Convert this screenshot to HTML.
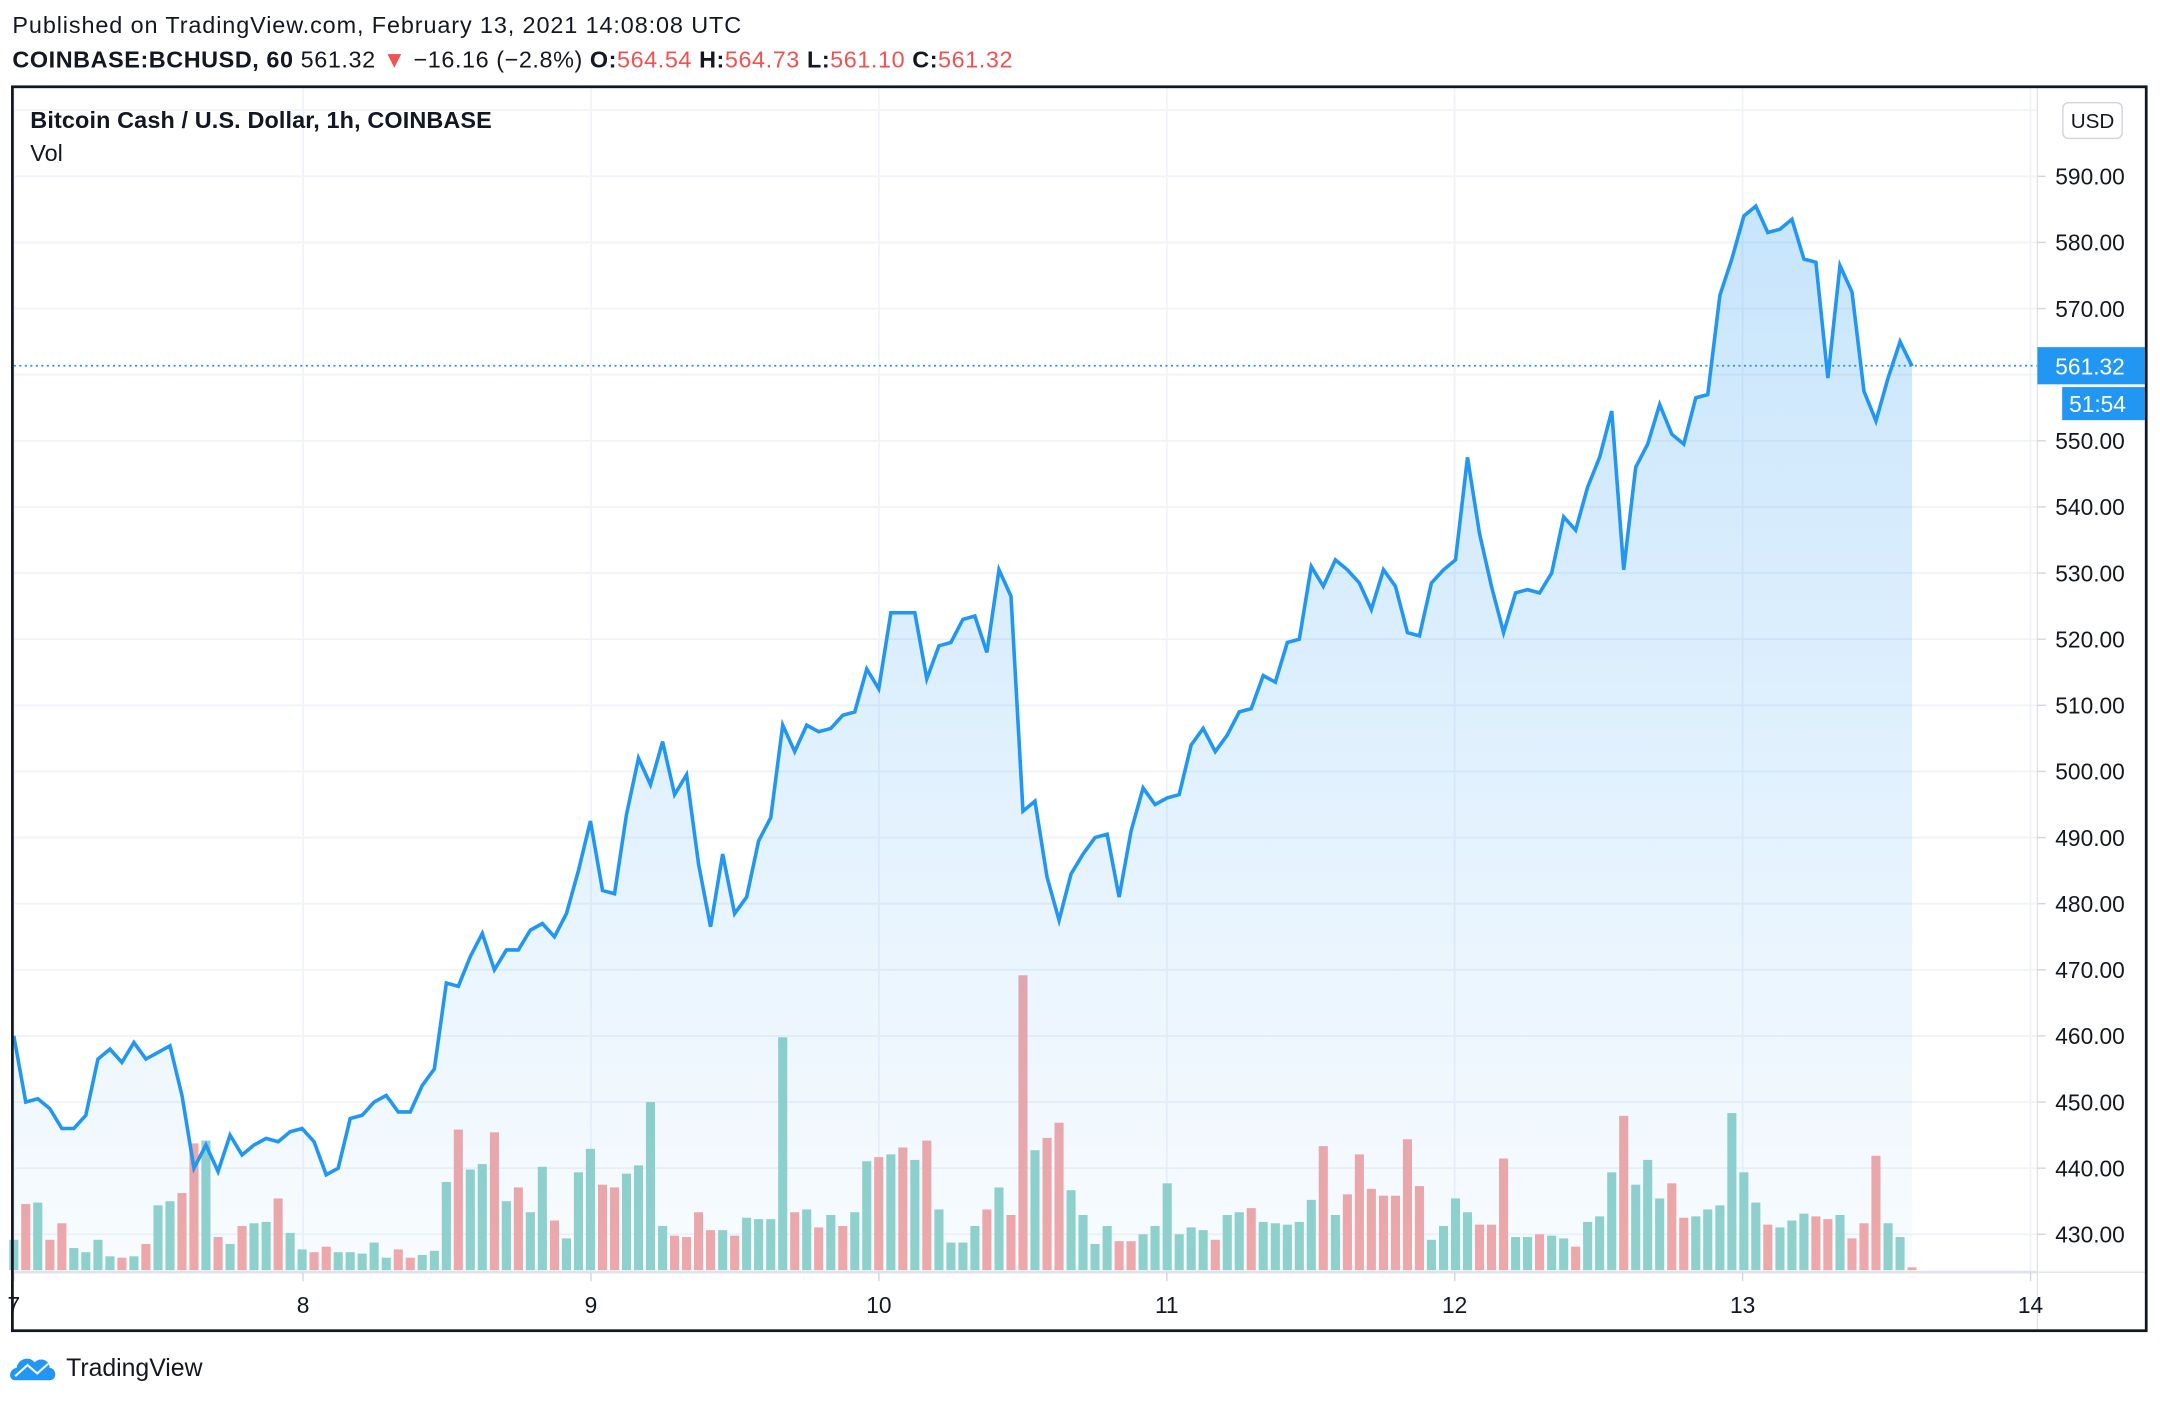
<!DOCTYPE html>
<html><head><meta charset="utf-8"><style>
html,body{margin:0;padding:0;background:#fff;width:2160px;height:1404px;overflow:hidden}
svg{display:block}
text{font-family:"Liberation Sans",sans-serif}
.n{font-family:"Liberation Sans Narrow","Liberation Sans",sans-serif}
</style></head><body>
<svg id="c" width="2160" height="1404" viewBox="0 0 1568 1019.2" preserveAspectRatio="none" xmlns="http://www.w3.org/2000/svg">
<defs>
<linearGradient id="g" x1="0" y1="0" x2="0" y2="1" gradientUnits="objectBoundingBox">
<stop offset="0" stop-color="#2196f3" stop-opacity="0.25"/>
<stop offset="1" stop-color="#2196f3" stop-opacity="0.03"/>
</linearGradient>
</defs>
<text class="n" x="9" y="24" font-size="17" fill="#131722" textLength="529">Published on TradingView.com, February 13, 2021 14:08:08 UTC</text>
<text class="n" x="9" y="49" font-size="17" fill="#131722" textLength="726"><tspan font-weight="bold">COINBASE:BCHUSD, 60</tspan> 561.32 <tspan fill="#ef5350">▼</tspan> −16.16 (−2.8%) <tspan font-weight="bold">O:</tspan><tspan fill="#ef5350">564.54</tspan> <tspan font-weight="bold">H:</tspan><tspan fill="#ef5350">564.73</tspan> <tspan font-weight="bold">L:</tspan><tspan fill="#ef5350">561.10</tspan> <tspan font-weight="bold">C:</tspan><tspan fill="#ef5350">561.32</tspan></text>
<g id="grid"></g>
<g id="vol"></g>
<g id="area"></g>
<line x1="10" y1="265.5" x2="1479" y2="265.5" stroke="#2196f3" stroke-width="1.2" stroke-dasharray="1.5 2.5"/>
<line x1="1479" y1="64" x2="1479" y2="966" stroke="#e0e3eb" stroke-width="1"/>
<line x1="10" y1="923.5" x2="1479" y2="923.5" stroke="#e0e3eb" stroke-width="2"/>
<line x1="1479" y1="923.5" x2="1557" y2="923.5" stroke="#e0e3eb" stroke-width="1"/>
<g id="labels"></g>
<text class="n" x="22" y="93" font-size="17" font-weight="bold" fill="#131722" textLength="335">Bitcoin Cash / U.S. Dollar, 1h, COINBASE</text>
<text class="n" x="22" y="117" font-size="17" fill="#131722">Vol</text>
<rect x="1497.5" y="74.5" width="43" height="26" rx="4" fill="#fff" stroke="#d1d4dc"/>
<text x="1519" y="93" font-size="15" fill="#131722" text-anchor="middle">USD</text>
<rect x="1479" y="252" width="78" height="27" fill="#2196f3"/>
<text x="1492" y="272" font-size="16.5" fill="#fff">561.32</text>
<rect x="1497" y="281" width="60" height="24" fill="#2196f3"/>
<text x="1502" y="299" font-size="16.5" fill="#fff">51:54</text>
<rect x="9" y="63" width="1549" height="903" fill="none" stroke="#131722" stroke-width="2"/>
<g transform="translate(8,982)">
<path d="M3 20 C-2 20 -2 12 4 11 C5 4 14 2 17 7 C21 3 28 5 28 11 C33 11 34 20 28 20 Z" fill="#2196f3"/>
<polyline points="3,17 12,9 19,15 27,8" fill="none" stroke="#fff" stroke-width="1.5"/>
</g>
<text x="48" y="999" font-size="18" fill="#131722">TradingView</text>
</svg>
<script>
const NS="http://www.w3.org/2000/svg";
function el(p,t,a,txt){const e=document.createElementNS(NS,t);for(const k in a)e.setAttribute(k,a[k]);if(txt!==undefined)e.textContent=txt;p.appendChild(e);return e;}
const Y=p=>128+(590-p)*4.8;
const grid=document.getElementById('grid'),labels=document.getElementById('labels');
for(let p=430;p<=600;p+=10){const y=Y(p);el(grid,'line',{x1:10,x2:1479,y1:y,y2:y,stroke:'#f0f3fa','stroke-width':1.3});
 if(p<=590){el(labels,'line',{x1:1479,x2:1485,y1:y,y2:y,stroke:'#d1d4dc'});el(labels,'text',{x:1492,y:y+6,'font-size':16.5,fill:'#131722'},p.toFixed(2));}}
const days=[[10,'7'],[220,'8'],[429,'9'],[638,'10'],[847,'11'],[1056,'12'],[1265,'13'],[1474,'14']];
days.forEach(([x,t])=>{el(grid,'line',{x1:x,x2:x,y1:64,y2:923,stroke:'#f0f3fa','stroke-width':1.3});
 el(labels,'line',{x1:x,x2:x,y1:924,y2:930,stroke:'#d1d4dc'});el(labels,'text',{x:x,y:953,'font-size':16.5,fill:'#131722','text-anchor':'middle'},t);});
const P=[460,450,450.5,449,446,446,448,456.5,458,456,459,456.5,457.5,458.5,451,440,443.5,439.5,445,442,443.5,444.5,444,445.5,446,444,439,440,447.5,448,450,451,448.5,448.5,452.5,455,468,467.5,472,475.5,470,473,473,476,477,475,478.5,485,492.5,482,481.5,493.5,502,498,504.5,496.5,499.5,486,476.5,487.5,478.5,481,489.5,493,507,503,507,506,506.5,508.5,509,515.5,512.5,524,524,524,514,519,519.5,523,523.5,518,530.5,526.5,494,495.5,484,477.5,484.5,487.5,490,490.5,481,491,497.5,495,496,496.5,504,506.5,503,505.5,509,509.5,514.5,513.5,519.5,520,531,528,532,530.5,528.5,524.5,530.5,528,521,520.5,528.5,530.5,532,547.5,536,528,521,527,527.5,527,530,538.5,536.5,543,547.5,554.5,530.5,546,549.5,555.5,551,549.5,556.5,557,572,577.5,584,585.5,581.5,582,583.5,577.5,577,559.5,576.5,572.5,557.5,553,559.5,565,561.3];
const dx=(1388-10)/(P.length-1);
const pts=P.map((p,i)=>[10+i*dx,Y(p)]);
const ps=pts.map(q=>q[0].toFixed(1)+','+q[1].toFixed(1)).join(' ');
const area=document.getElementById('area');
el(area,'polygon',{points:'10,923 '+ps+' 1388,923',fill:'url(#g)'});
el(area,'polyline',{points:ps,fill:'none',stroke:'#2196f3','stroke-width':2.6,'stroke-linejoin':'miter'});
const V="900g874r873g900r888r906g909g900g912g913r912g903r875g872g866r830r828g898r903g890r888g887g870r895g907g909r905r909g909g910g902g913g907r913r911g908g858g820r849g845g822r872g862r880g847g886r899g851g834g860r862r852g846g800g890g897r898r880r893r893g897r884g885g885g753g880r878g891r882g890r880g843g840r838g833r842g828r878g902g902g890g878r862g882r708r835g826r815r864g882g903g890g901r901r896g890g859g896g891g893g900r882g880g877r887g888g889g887g871g832r882g867r838r863r868r868r827r861r900g890g870g880g889r889r841r898g898g896r897g899g905r887g883g851g810r860g842g870g859r884r883g878g875g808g851g873g889r891g886g881g883r885r882g899r888r839r888g898g920r";
const vol=document.getElementById('vol');
const re=/(\d+)([gr])/g;let m,i=0;
while((m=re.exec(V))){const x=10+i*dx;const t=+m[1];
 el(vol,'rect',{x:(x-3.3).toFixed(1),y:t,width:6.6,height:Math.max(1,922-t),fill:m[2]=='g'?'#92d2cb':'#f3a8a7'});i++;}
</script>
</body></html>
